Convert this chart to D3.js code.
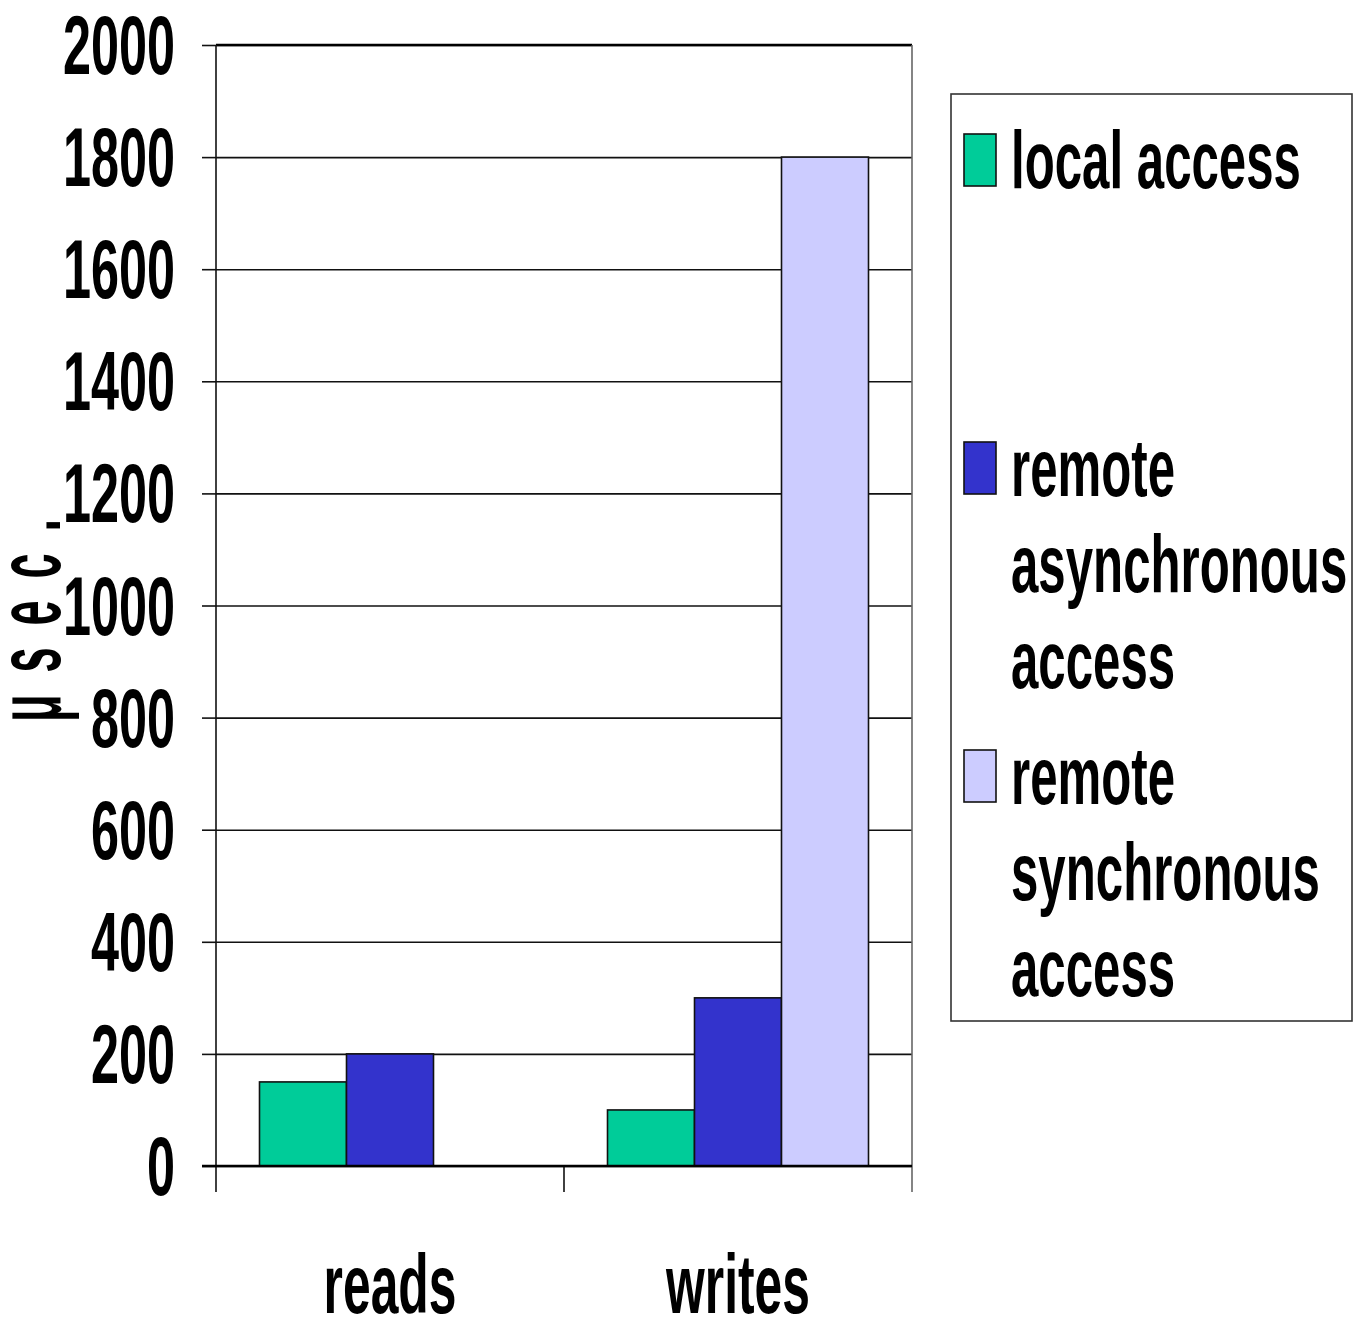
<!DOCTYPE html>
<html>
<head>
<meta charset="utf-8">
<script src="https://cdn.jsdelivr.net/npm/d3@7"></script>
<style>
  body { margin: 0; background: #fff; }
  svg text { font-family: "Liberation Sans", Arial, sans-serif; font-weight: bold; fill: #000; }
</style>
</head>
<body>
<svg id="chart" width="1354" height="1320"></svg>
<script>
// data
var categories = ["reads", "writes"];
var seriesNames = ["local access", "remote asynchronous access", "remote synchronous access"];
var localAccess = [150, 100];
var remoteAsync = [200, 300];
var remoteSync = [0, 1800];
var yTicks = [0, 200, 400, 600, 800, 1000, 1200, 1400, 1600, 1800, 2000];
var legendLines = [["local access"], ["remote", "asynchronous", "access"], ["remote", "synchronous", "access"]];
var colors = ["#00cc99", "#3333cc", "#ccccff"];

var svg = d3.select("#chart"),
    margin = {top: 45, left: 216},
    width = 696,
    height = 1121,
    g = svg.append("g").attr("transform", "translate(" + margin.left + "," + margin.top + ")");

// the original uses a narrow bold face; squeeze the glyphs horizontally
function squeeze(sel) {
    sel.each(function() {
        var w = this.getComputedTextLength();
        d3.select(this).attr("textLength", w * 0.6).attr("lengthAdjust", "spacingAndGlyphs");
    });
}

var x0 = d3.scaleBand().domain(categories).range([0, width]);
var pad = x0.bandwidth() * 0.125;
var x1 = d3.scaleBand().domain(seriesNames).range([pad, x0.bandwidth() - pad]);
var y = d3.scaleLinear().domain([0, 2000]).range([height, 0]);
var color = d3.scaleOrdinal().domain(seriesNames).range(colors);

var values = [localAccess, remoteAsync, remoteSync];
var rows = [];
categories.forEach(function(c, i) {
    seriesNames.forEach(function(s, j) {
        if (values[j][i] > 0) rows.push({cat: c, series: s, value: values[j][i]});
    });
});

// gridlines
g.append("g")
    .call(d3.axisLeft(y).tickValues(yTicks).tickSize(-width).tickFormat(""))
    .call(function(a) { a.select(".domain").remove(); })
    .selectAll("line").attr("stroke", "#111").attr("stroke-width", 1.6);

// y axis with labels
var yAxis = g.append("g")
    .call(d3.axisLeft(y).tickValues(yTicks).tickSize(14).tickPadding(0).tickFormat(d3.format("d")))
    .call(function(a) { a.select(".domain").remove(); });
yAxis.selectAll("line").attr("stroke", "#111").attr("stroke-width", 1.6);
yAxis.selectAll("text")
    .attr("x", -41)
    .attr("dy", "0.34em")
    .attr("text-anchor", "end")
    .style("font-size", "84px")
    .call(squeeze);

// bars
g.selectAll(".bar")
    .data(rows)
    .enter().append("rect")
    .attr("class", "bar")
    .attr("x", function(d) { return x0(d.cat) + x1(d.series); })
    .attr("y", function(d) { return y(d.value); })
    .attr("width", x1.bandwidth())
    .attr("height", function(d) { return y(0) - y(d.value); })
    .attr("fill", function(d) { return color(d.series); })
    .attr("stroke", "#111")
    .attr("stroke-width", 1.6);

// frame: top edge, left axis, right edge, baseline and category separators
g.append("line").attr("x1", 0).attr("x2", width).attr("y1", y(2000)).attr("y2", y(2000))
    .attr("stroke", "#000").attr("stroke-width", 2.4);
g.append("line").attr("x1", 0).attr("x2", 0).attr("y1", 0).attr("y2", height + 26)
    .attr("stroke", "#111").attr("stroke-width", 1.6);
g.append("line").attr("x1", width).attr("x2", width).attr("y1", 0).attr("y2", height + 26)
    .attr("stroke", "#666").attr("stroke-width", 1.6);
g.append("line").attr("x1", x0("writes")).attr("x2", x0("writes")).attr("y1", height).attr("y2", height + 26)
    .attr("stroke", "#111").attr("stroke-width", 1.6);
g.append("line").attr("x1", -14).attr("x2", width).attr("y1", y(0)).attr("y2", y(0))
    .attr("stroke", "#000").attr("stroke-width", 2.4);

// category labels
var xAxis = g.append("g")
    .attr("transform", "translate(0," + height + ")")
    .call(d3.axisBottom(x0).tickSize(0))
    .call(function(a) { a.select(".domain").remove(); });
xAxis.selectAll("text")
    .attr("y", 147).attr("dy", null)
    .style("font-size", "83px")
    .call(squeeze);

// y axis title
svg.append("text")
    .attr("transform", "translate(60,722) rotate(-90) scale(0.5,1)")
    .attr("letter-spacing", 44)
    .style("font-size", "90px")
    .text("μsec.");

// legend
var legend = svg.append("g");
legend.append("rect")
    .attr("x", 951).attr("y", 94).attr("width", 401).attr("height", 927)
    .attr("fill", "#fff").attr("stroke", "#333").attr("stroke-width", 1.6);

var item = legend.selectAll(".item")
    .data(seriesNames)
    .enter().append("g")
    .attr("class", "item")
    .attr("transform", function(d, i) { return "translate(0," + (188 + i * 308) + ")"; });

item.append("rect")
    .attr("x", 964).attr("y", -54).attr("width", 32).attr("height", 52)
    .attr("fill", function(d) { return color(d); })
    .attr("stroke", "#111").attr("stroke-width", 1.6);

item.selectAll("text")
    .data(function(d, i) { return legendLines[i]; })
    .enter().append("text")
    .attr("x", 1011)
    .attr("y", function(d, i) { return i * 96; })
    .style("font-size", "82px")
    .text(function(d) { return d; })
    .call(squeeze);
</script>
</body>
</html>
